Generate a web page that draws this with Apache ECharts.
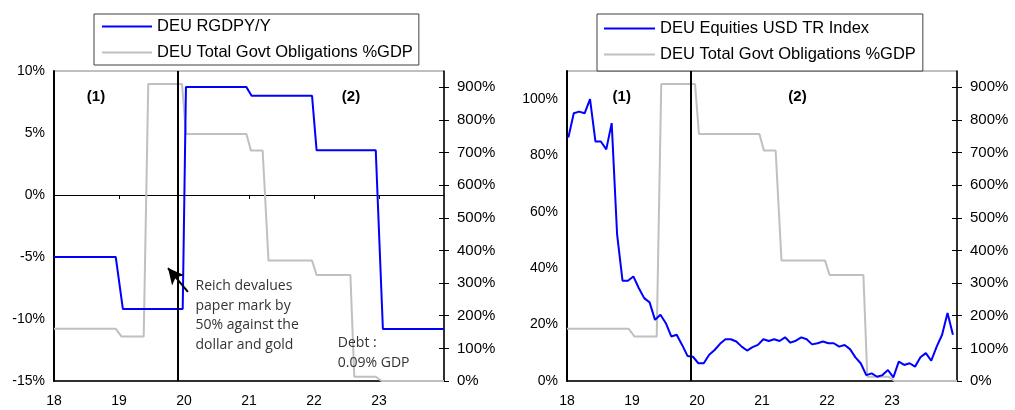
<!DOCTYPE html>
<html><head><meta charset="utf-8">
<script src="https://cdn.jsdelivr.net/npm/echarts@6/dist/echarts.min.js"></script>
<style>html,body{margin:0;padding:0;background:#fff}#c{width:1015px;height:410px}</style>
</head><body><div id="c"></div>
<script>
// ---- data ----
const yearTicks = [1918, 1919, 1920, 1921, 1922, 1923];
const yearLabels = ['18', '19', '20', '21', '22', '23'];
const gdpTicks = [-15, -10, -5, 0, 5, 10];
const eqTicks = [0, 20, 40, 60, 80, 100];
const debtTicks = [0, 100, 200, 300, 400, 500, 600, 700, 800, 900];

// DEU RGDP Y/Y (%), step series
const gdpX = [1918.0, 1918.95, 1919.06, 1919.98, 1920.03, 1920.96, 1921.04, 1921.97, 1922.04, 1922.95, 1923.06, 1924.0];
const gdpY = [-5.0, -5.0, -9.2, -9.2, 8.7, 8.7, 8.0, 8.0, 3.6, 3.6, -10.8, -10.8];

// DEU Total Govt Obligations %GDP
const debtX = [1918.0, 1918.95, 1919.04, 1919.38, 1919.45, 1919.97, 1920.03, 1920.96, 1921.03, 1921.21, 1921.30, 1921.97, 1922.04, 1922.56, 1922.62, 1922.95, 1923.04, 1924.0];
const debtY = [160, 160, 136, 136, 910, 910, 757, 757, 706, 706, 369, 369, 325, 325, 13, 13, 0, 0];

// DEU Equities USD TR Index (%), monthly Jan 1918 - Dec 1923
const eqStartYear = 1918;
const eqY = [
  86.4, 95.0, 95.6, 95.0, 100.0, 85.0, 85.0, 82.2, 91.5, 52.0, 35.6, 35.6,
  37.1, 33.0, 29.4, 27.9, 21.7, 23.5, 20.5, 15.8, 16.4, 12.8, 8.9, 8.6,
  6.3, 6.3, 9.3, 11.0, 13.2, 14.8, 14.8, 14.0, 12.2, 10.8, 12.0, 12.8,
  14.8, 14.2, 14.8, 14.2, 15.5, 13.6, 14.3, 15.5, 14.8, 13.0, 13.4, 14.0,
  13.4, 13.4, 12.2, 12.8, 11.3, 8.4, 6.2, 2.1, 2.7, 1.5, 2.1, 3.9,
  1.3, 6.9, 5.7, 6.3, 5.1, 8.4, 9.9, 7.2, 12.2, 16.4, 24.1, 16.4
];

const devalDate = 1919.9;

// ---- build ----
const gdpData = gdpX.map((x, i) => [x, gdpY[i]]);
const debtData = debtX.map((x, i) => [x, debtY[i]]);
const eqData = eqY.map((v, k) => [eqStartYear + (k + 0.25) / 12, v]);

const FONT = 'Liberation Sans, Arial, sans-serif';
const BLUE = '#0000FF';
const GRAY = '#C0C0C0';

function xAxes(grid) {
  return [
    {
      gridIndex: grid, type: 'value', min: 1918, max: 1924, position: 'bottom',
      axisLine: { onZero: false, lineStyle: { color: '#000', width: 1.5 } },
      axisTick: { show: false },
      splitLine: { show: false },
      axisLabel: {
        customValues: yearTicks, margin: 13, fontSize: 14, color: '#000', fontFamily: FONT,
        formatter: v => { const i = yearTicks.indexOf(v); return i >= 0 ? yearLabels[i] : ''; }
      }
    }
  ];
}
function rightAxes(grid) {
  return [
    {
      gridIndex: grid, type: 'value', position: 'right', min: 0, max: 950,
      axisLine: { show: true, onZero: false, lineStyle: { color: '#000', width: 1.5 } },
      axisTick: { show: true, customValues: debtTicks, length: 5, lineStyle: { color: '#000' } },
      splitLine: { show: false },
      axisLabel: { customValues: debtTicks, margin: 13, fontSize: 15, color: '#000', fontFamily: FONT, formatter: v => v + '%' }
    },
    {
      gridIndex: grid, type: 'value', position: 'right', min: 0, max: 950,
      axisLine: { show: false, onZero: false },
      axisTick: { show: true, inside: true, customValues: debtTicks, length: 5, lineStyle: { color: '#000' } },
      splitLine: { show: false },
      axisLabel: { show: false }
    }
  ];
}

const xA = xAxes(0);
// zero line with ticks for left chart
xA.push({
  gridIndex: 0, type: 'value', min: 1918, max: 1924, position: 'bottom',
  axisLine: { onZero: true, onZeroAxisIndex: 0, lineStyle: { color: '#000', width: 1 } },
  axisTick: { show: true, customValues: yearTicks, length: 4, lineStyle: { color: '#000' } },
  axisLabel: { show: false }, splitLine: { show: false }
});
xA.push(...xAxes(1)); // index 2

const yA = [
  {
    gridIndex: 0, type: 'value', position: 'left', min: -15, max: 10,
    axisLine: { show: true, onZero: false, lineStyle: { color: '#000', width: 2 } },
    axisTick: { show: false }, splitLine: { show: false },
    axisLabel: { customValues: gdpTicks, margin: 9, fontSize: 14, color: '#000', fontFamily: FONT, formatter: v => v + '%' }
  },
  ...rightAxes(0), // 1,2
  {
    gridIndex: 1, type: 'value', position: 'left', min: 0, max: 110,
    axisLine: { show: true, onZero: false, lineStyle: { color: '#000', width: 2 } },
    axisTick: { show: false }, splitLine: { show: false },
    axisLabel: { customValues: eqTicks, margin: 9, fontSize: 14, color: '#000', fontFamily: FONT, formatter: v => v + '%' }
  },
  ...rightAxes(1) // 4,5
];

const noteStyle = { fontFamily: 'Open Sans, Noto Sans, sans-serif', fontSize: 14, color: '#333', lineHeight: 19.5 };
const tagStyle = { fontFamily: FONT, fontSize: 15, fontWeight: 'bold', color: '#000' };

function tag(coord, text) {
  return { coord, symbol: 'circle', symbolSize: 1, itemStyle: { color: 'rgba(0,0,0,0)' },
           label: Object.assign({ show: true, position: 'inside', formatter: text }, tagStyle) };
}
function note(coord, text) {
  return { coord, symbol: 'circle', symbolSize: 1, itemStyle: { color: 'rgba(0,0,0,0)' },
           label: Object.assign({ show: true, position: [0, 0], formatter: text }, noteStyle) };
}

const option = {
  animation: false,
  backgroundColor: '#fff',
  grid: [
    { left: 54, right: 571, top: 71, bottom: 29, show: true, borderColor: '#808080', borderWidth: 1 },
    { left: 567, right: 58, top: 71, bottom: 29, show: true, borderColor: '#808080', borderWidth: 1 }
  ],
  legend: [
    {
      orient: 'vertical', left: 94, top: 14, icon: 'rect', itemWidth: 50, itemHeight: 2, itemGap: 9,
      padding: [4, 6, 4, 8], borderColor: '#404040', borderWidth: 1, backgroundColor: '#fff',
      textStyle: { fontSize: 16.5, color: '#000', fontFamily: FONT },
      data: ['DEU RGDPY/Y', 'DEU Total Govt Obligations %GDP']
    },
    {
      orient: 'vertical', left: 597, top: 14, icon: 'rect', itemWidth: 51, itemHeight: 2, itemGap: 9,
      padding: [6, 7, 8, 7], borderColor: '#404040', borderWidth: 1, backgroundColor: '#fff',
      textStyle: { fontSize: 16.5, color: '#000', fontFamily: FONT },
      data: ['DEU Equities USD TR Index', 'DEU Total Govt Obligations %GDP']
    }
  ],
  xAxis: xA,
  yAxis: yA,
  series: [
    {
      name: 'DEU Total Govt Obligations %GDP', type: 'line', xAxisIndex: 0, yAxisIndex: 1,
      data: debtData, symbol: 'none', lineStyle: { color: GRAY, width: 2 }, itemStyle: { color: GRAY }, z: 2
    },
    {
      name: 'DEU RGDPY/Y', type: 'line', xAxisIndex: 0, yAxisIndex: 0,
      data: gdpData, symbol: 'none', lineStyle: { color: BLUE, width: 2 }, itemStyle: { color: BLUE }, z: 3,
      markLine: {
        silent: true, symbol: ['none', 'none'], animation: false,
        label: { show: false },
        data: [
          { xAxis: devalDate, lineStyle: { color: '#000', width: 2, type: 'solid' } },
          [
            { coord: [1920.06, -7.82], symbol: 'none', lineStyle: { color: '#000', width: 2, type: 'solid' } },
            { coord: [1919.754, -5.89], symbol: 'arrow', symbolSize: [12, 16] }
          ]
        ]
      },
      markPoint: {
        silent: true, animation: false,
        data: [
          tag([1918.646, 7.9], '(1)'),
          tag([1922.569, 7.9], '(2)'),
          note([1920.185, -6.6], 'Reich devalues\npaper mark by\n50% against the\ndollar and gold'),
          note([1922.374, -11.2], 'Debt :\n0.09% GDP')
        ]
      }
    },
    {
      name: 'DEU Total Govt Obligations %GDP', type: 'line', xAxisIndex: 2, yAxisIndex: 4,
      data: debtData, symbol: 'none', lineStyle: { color: GRAY, width: 2 }, itemStyle: { color: GRAY }, z: 2
    },
    {
      name: 'DEU Equities USD TR Index', type: 'line', xAxisIndex: 2, yAxisIndex: 3,
      data: eqData, symbol: 'none', lineStyle: { color: BLUE, width: 2 }, itemStyle: { color: BLUE }, z: 3,
      markLine: {
        silent: true, symbol: ['none', 'none'], animation: false, label: { show: false },
        data: [{ xAxis: devalDate, lineStyle: { color: '#000', width: 2, type: 'solid' } }]
      },
      markPoint: {
        silent: true, animation: false,
        data: [tag([1918.842, 100.8], '(1)'), tag([1921.546, 100.8], '(2)')]
      }
    }
  ]
};

const chart = echarts.init(document.getElementById('c'), null, { renderer: 'canvas' });
chart.setOption(option);
</script>
</body></html>
